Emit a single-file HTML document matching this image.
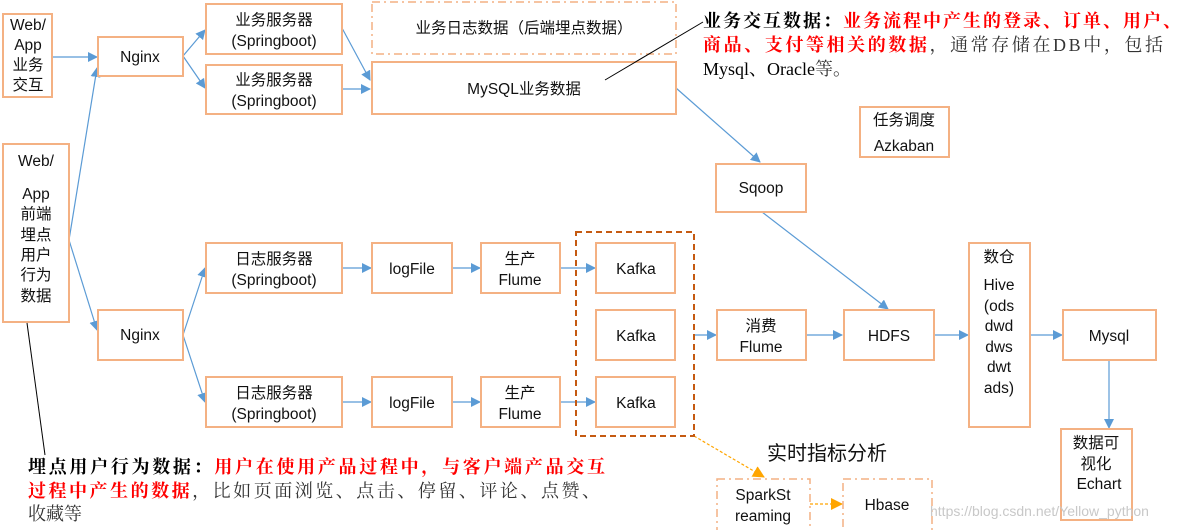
<!DOCTYPE html>
<html><head><meta charset="utf-8"><style>
html,body{margin:0;padding:0;background:#fff;width:1184px;height:530px;overflow:hidden}
svg{display:block}
text{font-family:"Liberation Sans","Noto Sans CJK SC",sans-serif;font-size:15.5px;fill:#111}
.b{fill:#fff;stroke:#f4b183;stroke-width:2}
.dd{fill:#fff;stroke:#f4b183;stroke-width:1.5;stroke-dasharray:8 4 2 4}
.a{stroke:#5b9bd5;stroke-width:1.2;fill:none;marker-end:url(#ar)}
.s{font-family:"Liberation Serif","Noto Serif CJK SC",serif;font-size:18px}
.r{fill:#f00}
.g{fill:#333}
</style></head><body>
<svg width="1184" height="530" viewBox="0 0 1184 530">
<defs>
<marker id="ar" markerWidth="10" markerHeight="10" refX="9" refY="5" orient="auto" markerUnits="userSpaceOnUse"><path d="M0,0 L10,5 L0,10 z" fill="#5b9bd5"/></marker>
<marker id="ao" markerWidth="12" markerHeight="12" refX="11" refY="6" orient="auto" markerUnits="userSpaceOnUse"><path d="M0,0 L12,6 L0,12 z" fill="#ffa500"/></marker>
</defs>

<!-- connectors -->
<line class="a" x1="52" y1="57" x2="97" y2="57"/>
<line class="a" x1="69" y1="240" x2="97" y2="68"/>
<line class="a" x1="69" y1="240" x2="97" y2="330"/>
<line class="a" x1="183" y1="56" x2="205" y2="30"/>
<line class="a" x1="183" y1="56" x2="205" y2="88"/>
<line class="a" x1="342" y1="28" x2="370" y2="80"/>
<line class="a" x1="342" y1="89" x2="370" y2="89"/>
<line class="a" x1="676" y1="88" x2="760" y2="162"/>
<line class="a" x1="762" y1="212" x2="888" y2="309"/>
<line class="a" x1="183" y1="335" x2="205" y2="268"/>
<line class="a" x1="183" y1="335" x2="205" y2="402"/>
<line class="a" x1="342" y1="268" x2="371" y2="268"/>
<line class="a" x1="452" y1="268" x2="480" y2="268"/>
<line class="a" x1="560" y1="268" x2="595" y2="268"/>
<line class="a" x1="342" y1="402" x2="371" y2="402"/>
<line class="a" x1="452" y1="402" x2="480" y2="402"/>
<line class="a" x1="560" y1="402" x2="595" y2="402"/>
<line class="a" x1="694" y1="335" x2="716" y2="335"/>
<line class="a" x1="806" y1="335" x2="842" y2="335"/>
<line class="a" x1="934" y1="335" x2="968" y2="335"/>
<line class="a" x1="1030" y1="335" x2="1062" y2="335"/>
<line class="a" x1="1109" y1="360" x2="1109" y2="428"/>
<line x1="694" y1="436" x2="764" y2="477" stroke="#ffa500" stroke-width="1.2" stroke-dasharray="3 2" marker-end="url(#ao)"/>
<line x1="810" y1="504" x2="842" y2="504" stroke="#ffa500" stroke-width="1.2" stroke-dasharray="3 2" marker-end="url(#ao)"/>

<!-- boxes -->
<rect class="b" x="3" y="14" width="49" height="83"/>
<text text-anchor="middle" x="28" y="30">Web/</text><text text-anchor="middle" x="28" y="50">App</text><text text-anchor="middle" x="28" y="70">业务</text><text text-anchor="middle" x="28" y="90">交互</text>
<rect class="b" x="3" y="144" width="66" height="178"/>
<text text-anchor="middle" x="36" y="166">Web/</text><text text-anchor="middle" x="36" y="199">App</text><text text-anchor="middle" x="36" y="219">前端</text><text text-anchor="middle" x="36" y="240">埋点</text><text text-anchor="middle" x="36" y="260">用户</text><text text-anchor="middle" x="36" y="280">行为</text><text text-anchor="middle" x="36" y="301">数据</text>
<rect class="b" x="98" y="37" width="85" height="39"/><text text-anchor="middle" x="140" y="62">Nginx</text>
<rect class="b" x="98" y="310" width="85" height="50"/><text text-anchor="middle" x="140" y="340">Nginx</text>
<rect class="b" x="206" y="4" width="136" height="50"/><text text-anchor="middle" x="274" y="25">业务服务器</text><text text-anchor="middle" x="274" y="46">(Springboot)</text>
<rect class="b" x="206" y="65" width="136" height="49"/><text text-anchor="middle" x="274" y="85">业务服务器</text><text text-anchor="middle" x="274" y="106">(Springboot)</text>
<rect class="dd" x="372" y="2" width="304" height="52"/><text text-anchor="middle" x="524" y="33">业务日志数据（后端埋点数据）</text>
<rect class="b" x="372" y="62" width="304" height="52"/><text text-anchor="middle" x="524" y="94">MySQL业务数据</text>
<rect class="b" x="860" y="107" width="89" height="50"/><text text-anchor="middle" x="904" y="125">任务调度</text><text text-anchor="middle" x="904" y="151">Azkaban</text>
<rect class="b" x="716" y="164" width="90" height="48"/><text text-anchor="middle" x="761" y="193">Sqoop</text>
<rect class="b" x="206" y="243" width="136" height="50"/><text text-anchor="middle" x="274" y="264">日志服务器</text><text text-anchor="middle" x="274" y="285">(Springboot)</text>
<rect class="b" x="206" y="377" width="136" height="50"/><text text-anchor="middle" x="274" y="398">日志服务器</text><text text-anchor="middle" x="274" y="419">(Springboot)</text>
<rect class="b" x="372" y="243" width="80" height="50"/><text text-anchor="middle" x="412" y="274">logFile</text>
<rect class="b" x="372" y="377" width="80" height="50"/><text text-anchor="middle" x="412" y="408">logFile</text>
<rect class="b" x="481" y="243" width="79" height="50"/><text text-anchor="middle" x="520" y="264">生产</text><text text-anchor="middle" x="520" y="285">Flume</text>
<rect class="b" x="481" y="377" width="79" height="50"/><text text-anchor="middle" x="520" y="398">生产</text><text text-anchor="middle" x="520" y="419">Flume</text>
<rect x="576" y="232" width="118" height="204" fill="none" stroke="#c55a11" stroke-width="2" stroke-dasharray="6 4"/>
<rect class="b" x="596" y="243" width="79" height="50"/><text text-anchor="middle" x="636" y="274">Kafka</text>
<rect class="b" x="596" y="310" width="79" height="50"/><text text-anchor="middle" x="636" y="341">Kafka</text>
<rect class="b" x="596" y="377" width="79" height="50"/><text text-anchor="middle" x="636" y="408">Kafka</text>
<rect class="b" x="717" y="310" width="89" height="50"/><text text-anchor="middle" x="761" y="331">消费</text><text text-anchor="middle" x="761" y="352">Flume</text>
<rect class="b" x="844" y="310" width="90" height="50"/><text text-anchor="middle" x="889" y="341">HDFS</text>
<rect class="b" x="969" y="243" width="61" height="184"/>
<text text-anchor="middle" x="999" y="262">数仓</text><text text-anchor="middle" x="999" y="290">Hive</text><text text-anchor="middle" x="999" y="311">(ods</text><text text-anchor="middle" x="999" y="331">dwd</text><text text-anchor="middle" x="999" y="352">dws</text><text text-anchor="middle" x="999" y="372">dwt</text><text text-anchor="middle" x="999" y="393">ads)</text>
<rect class="b" x="1063" y="310" width="93" height="50"/><text text-anchor="middle" x="1109" y="341">Mysql</text>
<rect class="b" x="1061" y="429" width="71" height="91"/><text text-anchor="middle" x="1096" y="448">数据可</text><text text-anchor="middle" x="1096" y="469">视化</text><text text-anchor="middle" x="1099" y="489">Echart</text>
<rect class="dd" x="717" y="479" width="93" height="52"/><text text-anchor="middle" x="763" y="500">SparkSt</text><text text-anchor="middle" x="763" y="521">reaming</text>
<rect class="dd" x="843" y="479" width="89" height="52"/><text text-anchor="middle" x="887" y="510">Hbase</text>
<text x="767" y="460" style="font-size:20px">实时指标分析</text>
<text x="930" y="516" style="font-size:14px;fill:#c8c8c8">https://blog.csdn.net/Yellow_python</text>

<line x1="605" y1="80" x2="703" y2="22" stroke="#000" stroke-width="1"/>
<line x1="27" y1="323" x2="45" y2="455" stroke="#000" stroke-width="1"/>

<!-- annotations -->
<text class="s" x="703" y="27" textLength="478" lengthAdjust="spacing"><tspan font-weight="bold" fill="#000">业务交互数据：</tspan><tspan class="r" font-weight="bold">业务流程中产生的登录、订单、用户、</tspan></text>
<text class="s" x="703" y="51" textLength="460" lengthAdjust="spacing"><tspan class="r" font-weight="bold">商品、支付等相关的数据</tspan><tspan class="g">，通常存储在DB中，包括</tspan></text>
<text class="s" x="703" y="75"><tspan fill="#000">Mysql、Oracle</tspan><tspan class="g">等。</tspan></text>
<text class="s" x="28" y="473" textLength="577" lengthAdjust="spacing"><tspan font-weight="bold" fill="#000">埋点用户行为数据：</tspan><tspan class="r" font-weight="bold">用户在使用产品过程中，与客户端产品交互</tspan></text>
<text class="s" x="28" y="497" textLength="572" lengthAdjust="spacing"><tspan class="r" font-weight="bold">过程中产生的数据</tspan><tspan class="g">，比如页面浏览、点击、停留、评论、点赞、</tspan></text>
<text class="s g" x="28" y="520">收藏等</text>
</svg>
</body></html>
